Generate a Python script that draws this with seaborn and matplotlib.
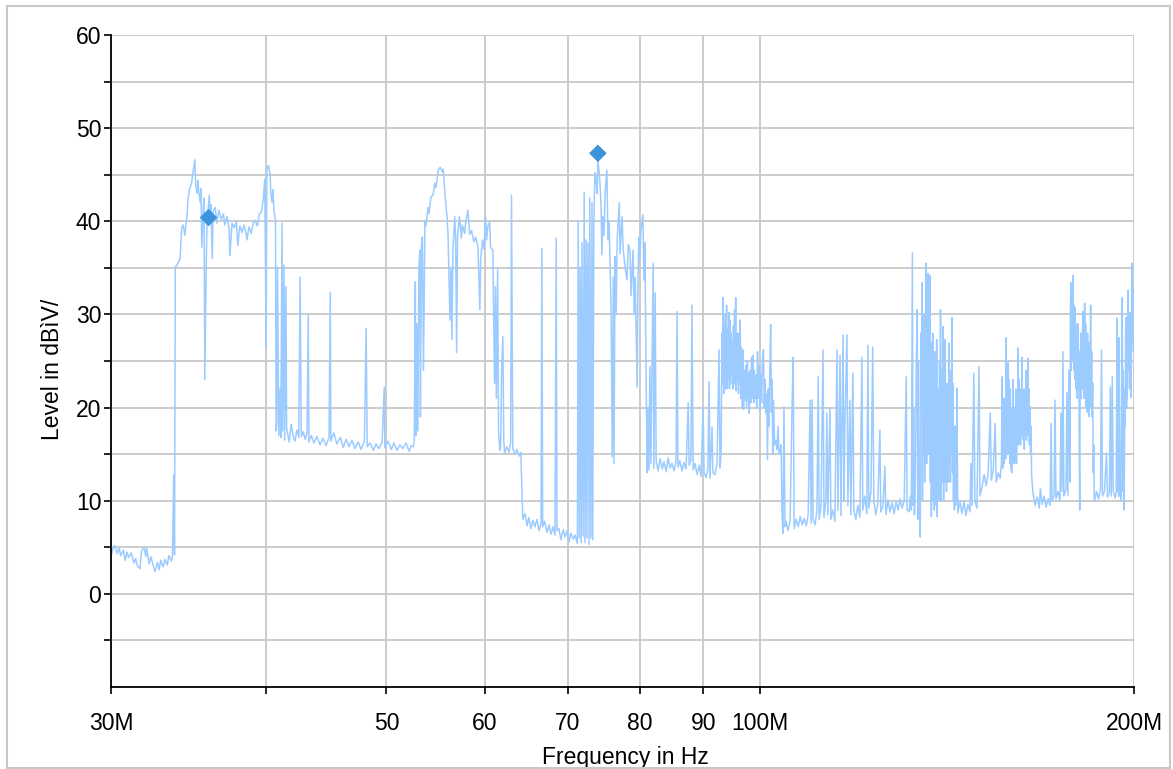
import pandas as pd
import matplotlib
matplotlib.use("Agg")
import matplotlib.pyplot as plt
import seaborn as sns
from matplotlib.patches import Rectangle
from matplotlib.ticker import NullLocator

# scan trace, (frequency in MHz, level in dBuV)
band_30_34 = [
    (30.0, 4.0), (30.1, 4.8), (30.2, 5.2), (30.35, 4.3), (30.45, 4.9), (30.55, 4.1),
    (30.7, 4.7), (30.8, 3.6), (30.9, 4.5), (31.0, 3.9), (31.15, 4.4), (31.3, 3.3),
    (31.4, 3.8), (31.5, 3.0), (31.65, 2.7), (31.75, 4.6), (31.9, 5.0), (32.0, 4.0),
    (32.05, 4.9), (32.2, 3.2), (32.3, 4.0), (32.45, 3.0), (32.55, 2.4), (32.7, 3.4),
    (32.8, 2.6), (32.9, 3.6), (33.05, 2.9), (33.15, 3.7), (33.3, 3.1), (33.4, 4.1),
    (33.55, 3.5), (33.62, 4.0), (33.7, 12.8), (33.75, 4.2), (33.8, 35.1),
]
band_34_41 = [
    (33.85, 35.2), (34.0, 35.6), (34.1, 36.0), (34.2, 39.3), (34.3, 39.6), (34.4, 38.5),
    (34.55, 40.8), (34.6, 42.3), (34.7, 43.4), (34.85, 44.2), (34.9, 45.0), (35.05, 46.6),
    (35.1, 44.0), (35.2, 43.0), (35.25, 44.4), (35.3, 43.2), (35.4, 42.0), (35.45, 43.5),
    (35.5, 37.2), (35.6, 41.5), (35.65, 42.5), (35.7, 23.0), (35.8, 36.0), (35.85, 40.0),
    (36.0, 42.8), (36.05, 40.5), (36.1, 41.8), (36.2, 36.0), (36.25, 41.0), (36.4, 41.5),
    (36.5, 39.8), (36.65, 41.2), (36.8, 40.2), (36.95, 40.8), (37.05, 39.6), (37.2, 40.5),
    (37.35, 39.2), (37.4, 36.3), (37.55, 39.8), (37.7, 39.3), (37.85, 40.0), (37.95, 37.4),
    (38.1, 39.5), (38.25, 38.8), (38.4, 39.6), (38.55, 38.6), (38.6, 38.0), (38.75, 39.4),
    (38.9, 38.7), (39.05, 39.8), (39.2, 40.1), (39.35, 39.5), (39.5, 40.8), (39.65, 41.0),
    (39.8, 42.5), (39.9, 44.5), (40.0, 26.4), (40.05, 45.5), (40.15, 46.0), (40.2, 45.8),
    (40.3, 45.0), (40.35, 43.0), (40.45, 42.0), (40.5, 43.4), (40.6, 41.0), (40.7, 40.0),
    (40.75, 17.5),
]
band_41_52 = [
    (40.8, 18.3), (40.85, 35.1), (40.95, 17.0), (41.05, 22.0), (41.1, 16.8), (41.2, 39.8),
    (41.25, 17.5), (41.35, 35.3), (41.4, 16.5), (41.5, 33.0), (41.55, 17.8), (41.75, 16.3),
    (41.9, 18.2), (42.05, 17.0), (42.2, 16.4), (42.35, 17.6), (42.5, 16.8), (42.6, 34.0),
    (42.7, 16.9), (42.85, 17.4), (43.0, 16.6), (43.15, 17.2), (43.25, 29.9), (43.3, 16.3),
    (43.5, 17.0), (43.7, 16.2), (43.95, 16.9), (44.2, 16.0), (44.45, 16.7), (44.7, 15.9),
    (44.95, 16.8), (45.05, 32.4), (45.1, 16.4), (45.35, 17.3), (45.6, 16.1), (45.9, 16.8),
    (46.15, 15.7), (46.4, 16.6), (46.65, 15.8), (46.9, 16.5), (47.15, 15.6), (47.45, 16.3),
    (47.7, 15.5), (48.0, 16.4), (48.15, 28.5), (48.25, 15.8), (48.5, 16.2), (48.8, 15.4),
    (49.05, 16.1), (49.3, 15.6), (49.6, 16.3), (49.8, 22.2), (49.85, 15.7), (50.15, 16.4),
    (50.45, 15.5), (50.7, 16.2), (51.0, 15.4), (51.25, 16.0), (51.55, 15.6), (51.85, 16.2),
    (52.15, 15.3), (52.35, 15.9), (52.55, 15.8),
]
band_52_62 = [
    (52.65, 16.5), (52.75, 33.5), (52.8, 17.0), (52.9, 29.0), (53.0, 17.5), (53.1, 35.0),
    (53.2, 36.9), (53.25, 19.0), (53.35, 37.5), (53.45, 38.3), (53.55, 24.0), (53.7, 40.1),
    (53.8, 39.5), (54.0, 41.5), (54.1, 40.8), (54.3, 42.6), (54.5, 42.8), (54.7, 44.1),
    (54.8, 43.6), (55.05, 45.5), (55.25, 45.8), (55.45, 45.3), (55.55, 45.6), (55.75, 42.6),
    (55.95, 40.4), (56.05, 38.5), (56.25, 29.4), (56.35, 35.0), (56.45, 27.3), (56.55, 36.6),
    (56.75, 40.5), (56.85, 38.0), (56.95, 25.9), (57.05, 38.5), (57.25, 40.5), (57.45, 38.2),
    (57.55, 39.6), (57.8, 38.7), (57.9, 39.8), (58.15, 41.2), (58.35, 38.6), (58.55, 39.0),
    (58.8, 37.8), (59.0, 38.3), (59.25, 37.2), (59.45, 30.5), (59.55, 36.0), (59.75, 38.0),
    (59.9, 37.0), (60.1, 40.5), (60.2, 38.0), (60.35, 39.5), (60.55, 39.9), (60.65, 37.2),
    (60.9, 36.9), (61.0, 30.0), (61.1, 22.6), (61.2, 33.0), (61.3, 21.0), (61.45, 34.8),
    (61.55, 17.5), (61.7, 15.4),
]
band_62_74 = [
    (61.8, 16.0), (61.9, 24.0), (62.05, 27.6), (62.15, 16.5), (62.25, 15.1), (62.5, 15.8),
    (62.75, 15.2), (62.95, 16.2), (63.05, 42.8), (63.2, 15.6), (63.45, 15.0), (63.7, 15.5),
    (63.95, 14.8), (64.15, 15.2), (64.3, 10.4), (64.4, 8.0), (64.65, 8.6), (64.9, 7.3),
    (65.1, 8.2), (65.35, 7.0), (65.6, 7.9), (65.85, 7.2), (66.1, 8.0), (66.35, 6.8),
    (66.6, 7.5), (66.7, 37.1), (66.8, 7.2), (67.05, 7.8), (67.35, 6.6), (67.6, 7.4),
    (67.85, 6.4), (68.1, 7.2), (68.35, 6.3), (68.5, 38.2), (68.6, 6.8), (68.85, 7.0),
    (69.1, 5.8), (69.4, 6.9), (69.65, 6.1), (69.9, 6.8), (70.15, 5.6), (70.4, 6.5),
    (70.7, 5.9), (70.95, 6.3), (71.25, 5.4), (71.35, 40.0), (71.5, 6.0), (71.6, 35.0),
    (71.75, 5.5), (71.85, 37.7), (72.0, 6.2), (72.15, 43.1), (72.25, 5.5), (72.4, 38.0),
    (72.5, 6.0), (72.65, 37.7), (72.8, 5.3), (72.9, 42.5), (73.05, 6.0), (73.2, 42.0),
    (73.3, 5.8), (73.45, 40.0), (73.6, 45.2),
]
band_74_81 = [
    (73.75, 44.4), (73.9, 43.0), (74.0, 46.4), (74.15, 45.5), (74.3, 44.0), (74.45, 41.5),
    (74.55, 36.4), (74.7, 40.5), (74.85, 38.5), (75.0, 43.0), (75.25, 45.5), (75.4, 38.0),
    (75.55, 40.0), (75.7, 35.5), (75.85, 30.0), (76.0, 14.7), (76.15, 34.0), (76.25, 14.0),
    (76.4, 36.2), (76.55, 30.0), (76.7, 38.0), (77.0, 42.0), (77.1, 36.5), (77.4, 40.5),
    (77.55, 37.0), (77.85, 35.0), (78.1, 33.7), (78.3, 37.5), (78.55, 36.9), (78.7, 32.0),
    (79.0, 36.9), (79.15, 30.0), (79.3, 34.0), (79.6, 22.2), (79.7, 33.0), (79.85, 38.3),
    (80.0, 36.0), (80.15, 39.0), (80.45, 40.7), (80.6, 33.7), (80.75, 37.7),
]
band_81_93 = [
    (80.9, 25.0), (81.1, 13.0), (81.2, 20.0), (81.35, 13.3), (81.5, 24.4), (81.65, 14.0),
    (82.0, 35.5), (82.1, 13.5), (82.3, 32.3), (82.45, 14.2), (82.75, 13.2), (83.05, 14.5),
    (83.4, 13.4), (83.65, 14.2), (84.0, 13.1), (84.3, 14.6), (84.6, 13.5), (84.9, 14.0),
    (85.25, 13.2), (85.55, 14.4), (85.7, 30.3), (85.85, 13.6), (86.15, 14.3), (86.5, 13.2),
    (86.8, 14.1), (87.15, 13.4), (87.5, 20.5), (87.65, 13.8), (87.95, 14.4), (88.1, 31.0),
    (88.3, 13.3), (88.6, 14.0), (88.95, 12.8), (89.3, 13.8), (89.6, 12.6), (89.95, 20.0),
    (90.1, 13.0), (90.45, 12.5), (90.75, 13.4), (90.95, 22.8), (91.1, 12.4), (91.45, 17.9),
    (91.6, 13.0), (91.95, 12.8), (92.3, 14.0), (92.65, 26.2), (92.8, 13.5), (93.0, 15.0),
]
band_93_104 = [
    (93.15, 28.0), (93.25, 22.5), (93.35, 31.8), (93.45, 21.5), (93.55, 29.0), (93.65, 22.0),
    (93.75, 30.0), (93.85, 23.5), (93.95, 31.0), (94.05, 22.0), (94.15, 28.5), (94.25, 23.0),
    (94.35, 30.2), (94.45, 22.0), (94.55, 29.4), (94.65, 22.5), (94.75, 28.0), (94.85, 23.5),
    (94.95, 27.0), (95.05, 22.0), (95.15, 28.8), (95.25, 23.0), (95.35, 30.5), (95.45, 22.5),
    (95.55, 31.8), (95.65, 21.8), (95.75, 28.0), (95.85, 23.0), (95.95, 27.5), (96.05, 21.5),
    (96.15, 28.0), (96.25, 22.5), (96.35, 29.4), (96.45, 21.0), (96.55, 26.5), (96.7, 20.0),
    (96.85, 26.2), (96.95, 19.8), (97.05, 24.0), (97.2, 20.8), (97.35, 24.5), (97.5, 20.0),
    (97.65, 25.0), (97.75, 21.0), (97.85, 23.7), (97.95, 19.4), (98.1, 24.0), (98.25, 20.5),
    (98.4, 25.4), (98.55, 21.0), (98.7, 25.6), (98.8, 20.5), (98.9, 24.0), (99.05, 21.0),
    (99.2, 23.5), (99.35, 20.0), (99.5, 26.0), (99.65, 21.0), (99.8, 24.5), (99.95, 19.7),
    (100.1, 23.5), (100.25, 20.5), (100.4, 25.0), (100.6, 26.2), (100.75, 20.0), (100.9, 23.0),
    (101.05, 19.4), (101.2, 21.5), (101.35, 14.4), (101.5, 22.0), (101.65, 18.0), (101.8, 24.0),
    (101.95, 28.9), (102.1, 19.5), (102.2, 23.0), (102.35, 15.0), (102.5, 20.8), (102.7, 16.0),
    (102.95, 16.5), (103.15, 15.5), (103.35, 18.0), (103.55, 15.0), (103.75, 15.1), (103.95, 16.0),
    (104.1, 9.0), (104.3, 6.5),
]
band_104_131 = [
    (104.5, 20.1), (104.7, 7.2), (104.9, 7.8), (105.3, 6.8), (105.7, 7.9), (106.1, 20.8),
    (106.3, 25.4), (106.5, 7.0), (106.9, 8.0), (107.3, 7.2), (107.7, 8.3), (108.1, 7.4),
    (108.5, 8.1), (108.9, 7.3), (109.3, 8.5), (109.7, 20.8), (109.9, 7.6), (110.1, 20.8),
    (110.3, 8.0), (110.7, 7.4), (111.1, 9.0), (111.35, 23.3), (111.55, 8.0), (111.95, 9.5),
    (112.35, 26.2), (112.55, 8.2), (112.95, 10.0), (113.15, 19.4), (113.35, 8.5), (113.8, 19.9),
    (114.0, 8.0), (114.4, 9.0), (114.85, 7.8), (115.3, 26.2), (115.5, 9.0), (115.95, 25.6),
    (116.15, 8.4), (116.6, 27.8), (116.8, 10.0), (117.0, 18.0), (117.45, 27.8), (117.65, 9.5),
    (118.1, 20.8), (118.3, 8.5), (118.75, 23.7), (118.95, 9.0), (119.4, 8.0), (119.85, 9.5),
    (120.3, 8.2), (120.75, 25.4), (120.95, 9.0), (121.4, 10.5), (121.85, 8.6), (122.1, 26.7),
    (122.3, 9.2), (122.8, 11.0), (123.2, 26.5), (123.45, 10.0), (123.9, 8.5), (124.35, 9.6),
    (124.85, 17.6), (125.05, 8.8), (125.55, 9.4), (126.0, 13.7), (126.25, 8.5), (126.75, 10.1),
    (127.2, 8.8), (127.7, 9.8), (128.2, 8.6), (128.65, 9.9), (129.15, 9.0), (129.6, 10.2),
    (130.1, 9.2), (130.6, 10.0),
]
band_131_145 = [
    (131.1, 23.3), (131.3, 9.0), (131.8, 8.8), (132.1, 10.5), (132.35, 9.0), (132.6, 36.6),
    (132.75, 9.5), (132.9, 20.0), (133.1, 8.5), (133.35, 12.0), (133.55, 24.0), (133.8, 30.5),
    (133.95, 8.0), (134.1, 25.0), (134.3, 10.0), (134.55, 6.1), (134.7, 28.0), (134.85, 20.0),
    (135.0, 33.4), (135.1, 10.0), (135.25, 25.0), (135.4, 15.0), (135.5, 30.0), (135.65, 12.0),
    (135.75, 28.0), (135.9, 18.0), (136.0, 35.5), (136.15, 14.0), (136.25, 30.0), (136.4, 20.0),
    (136.5, 34.4), (136.6, 15.0), (136.7, 31.0), (136.85, 22.0), (136.95, 34.2), (137.1, 12.0),
    (137.2, 25.0), (137.35, 8.3), (137.5, 27.0), (137.6, 10.0), (137.7, 28.0), (137.85, 12.0),
    (137.95, 24.0), (138.1, 9.0), (138.2, 26.0), (138.35, 14.0), (138.45, 22.0), (138.6, 9.5),
    (138.7, 27.3), (138.85, 8.3), (138.95, 20.0), (139.1, 12.0), (139.2, 22.0), (139.35, 10.0),
    (139.45, 25.0), (139.6, 11.0), (139.7, 30.5), (139.85, 10.0), (140.0, 24.0), (140.1, 18.0),
    (140.25, 12.0), (140.35, 28.7), (140.5, 10.0), (140.6, 24.0), (140.75, 12.0), (140.85, 27.3),
    (141.0, 13.0), (141.1, 20.0), (141.25, 11.0), (141.35, 22.6), (141.5, 12.0), (141.6, 18.0),
    (141.75, 12.0), (141.9, 26.9), (142.05, 14.0), (142.15, 18.0), (142.3, 12.0), (142.4, 24.0),
    (142.55, 15.0), (142.7, 29.7), (142.85, 13.0), (142.95, 22.6), (143.1, 10.0), (143.2, 15.0),
    (143.35, 9.0), (143.5, 18.0), (143.65, 9.5), (143.75, 18.0), (143.9, 10.0), (144.0, 22.1),
    (144.25, 8.7),
]
band_145_166 = [
    (144.85, 10.0), (145.35, 8.6), (145.9, 9.9), (146.45, 8.4), (147.0, 9.6), (147.55, 8.8),
    (147.8, 14.0), (148.1, 9.5), (148.6, 23.7), (148.9, 10.0), (149.45, 9.2), (150.05, 24.4),
    (150.3, 10.5), (150.9, 11.5), (151.45, 12.8), (152.05, 11.6), (152.6, 13.0), (153.2, 19.4),
    (153.5, 12.2), (154.05, 13.3), (154.6, 18.3), (154.9, 12.0), (155.5, 13.0), (156.05, 12.4),
    (156.4, 14.0), (156.65, 23.3), (156.8, 13.5), (156.95, 15.0), (157.1, 21.0), (157.25, 14.0),
    (157.5, 20.0), (157.65, 14.5), (157.8, 27.5), (157.95, 16.0), (158.1, 22.0), (158.25, 15.0),
    (158.4, 24.8), (158.55, 17.0), (158.7, 23.0), (158.85, 14.0), (159.0, 22.0), (159.15, 13.5),
    (159.25, 18.0), (159.4, 13.0), (159.55, 20.0), (159.7, 14.0), (159.85, 23.0), (160.0, 15.0),
    (160.1, 20.0), (160.25, 14.0), (160.4, 20.0), (160.55, 15.5), (160.7, 22.0), (160.85, 14.0),
    (161.0, 19.0), (161.15, 16.0), (161.3, 26.4), (161.45, 16.0), (161.6, 23.0), (161.75, 17.0),
    (161.9, 22.0), (162.05, 16.0), (162.2, 21.0), (162.35, 17.5), (162.5, 25.4), (162.65, 17.0),
    (162.75, 22.0), (162.9, 16.5), (163.05, 20.0), (163.2, 15.5), (163.35, 22.0), (163.5, 17.0),
    (163.7, 24.0), (163.85, 16.5), (164.0, 21.0), (164.15, 17.0), (164.3, 25.3), (164.45, 17.5),
    (164.6, 22.0), (164.75, 16.0), (164.95, 20.1), (165.1, 15.0), (165.25, 18.0), (165.4, 13.0),
    (165.55, 12.0), (165.85, 10.8),
]
band_166_200 = [
    (166.5, 9.5), (167.15, 10.4), (167.8, 9.2), (168.1, 11.3), (168.7, 9.6), (169.3, 10.5),
    (169.9, 9.3), (170.55, 10.2), (171.2, 9.5), (171.5, 18.3), (171.8, 10.0), (172.45, 10.6),
    (172.75, 20.8), (173.05, 10.2), (173.7, 11.0), (174.35, 10.0), (174.65, 19.4), (175.0, 11.0),
    (175.3, 26.0), (175.6, 10.5), (176.3, 11.2), (176.6, 21.6), (176.9, 10.6), (177.25, 24.0),
    (177.6, 12.0), (177.75, 30.0), (177.9, 33.4), (178.05, 24.0), (178.2, 31.0), (178.35, 25.0),
    (178.55, 34.2), (178.7, 26.0), (178.85, 31.0), (179.0, 24.0), (179.2, 30.8), (179.35, 23.0),
    (179.5, 29.0), (179.65, 22.0), (179.85, 27.0), (180.0, 21.0), (180.2, 29.0), (180.35, 22.0),
    (180.55, 26.0), (180.7, 15.0), (180.85, 9.0), (181.0, 24.0), (181.2, 28.0), (181.35, 21.0),
    (181.5, 27.0), (181.65, 22.0), (181.85, 30.3), (182.0, 22.0), (182.2, 28.0), (182.35, 21.0),
    (182.5, 31.2), (182.7, 23.0), (182.85, 29.0), (183.0, 20.0), (183.2, 27.0), (183.35, 19.5),
    (183.5, 28.0), (183.7, 20.0), (183.85, 25.0), (184.0, 19.0), (184.2, 27.0), (184.35, 21.0),
    (184.55, 31.0), (184.7, 20.0), (184.9, 26.0), (185.05, 19.0), (185.25, 22.6), (185.45, 13.0),
    (185.6, 16.0), (185.8, 10.0), (185.95, 10.1), (186.6, 11.0), (187.3, 10.2), (187.95, 11.2),
    (188.3, 26.2), (188.65, 10.5), (189.35, 11.0), (190.05, 15.1), (190.4, 10.4), (191.1, 10.9),
    (191.4, 22.2), (191.75, 10.5), (192.1, 23.3), (192.45, 11.0), (193.15, 10.3), (193.5, 11.0),
    (193.85, 29.6), (194.0, 11.0), (194.2, 14.0), (194.4, 10.5), (194.6, 27.5), (194.8, 10.5),
    (195.0, 12.0), (195.2, 10.0), (195.45, 20.0), (195.7, 31.8), (195.9, 11.0), (196.05, 24.0),
    (196.25, 10.5), (196.4, 9.0), (196.6, 22.0), (196.75, 18.0), (196.9, 28.0), (197.1, 29.7),
    (197.25, 20.0), (197.4, 27.0), (197.5, 21.0), (197.7, 30.0), (197.85, 32.6), (198.0, 24.0),
    (198.2, 30.0), (198.35, 22.0), (198.5, 28.0), (198.6, 30.2), (198.75, 24.0), (198.95, 21.1),
    (199.1, 30.0), (199.3, 35.5), (199.45, 27.0), (199.65, 33.0), (199.8, 26.0), (200.0, 30.0),
]

# the two marked peaks
peak_freq = [35.95, 74.0]
peak_level = [40.4, 47.3]

x_ticks = [30, 40, 50, 60, 70, 80, 90, 100, 200]
x_tick_labels = ["30M", "", "50", "60", "70", "80", "90", "100M", "200M"]
y_ticks = [0, 10, 20, 30, 40, 50, 60]
y_minor_ticks = [-5, 5, 15, 25, 35, 45, 55]

bands = [band_30_34, band_34_41, band_41_52, band_52_62, band_62_74, band_74_81,
         band_81_93, band_93_104, band_104_131, band_131_145, band_145_166, band_166_200]
trace = pd.DataFrame([p for b in bands for p in b], columns=["freq_mhz", "level"])
peaks = pd.DataFrame({"freq_mhz": peak_freq, "level": peak_level})

sns.set_style("white")
plt.rcParams["font.family"] = ["Liberation Sans", "DejaVu Sans"]
plt.rcParams["text.color"] = "black"
plt.rcParams["axes.labelcolor"] = "black"
plt.rcParams["xtick.color"] = "black"
plt.rcParams["ytick.color"] = "black"

fig = plt.figure(figsize=(11.73, 7.69), dpi=100)
ax = fig.add_axes([111 / 1173, 1 - 687 / 769, 1023 / 1173, 652 / 769])

sns.lineplot(data=trace, x="freq_mhz", y="level", ax=ax, estimator=None, sort=False,
             color="#9ccbff", linewidth=1.1)
sns.scatterplot(data=peaks, x="freq_mhz", y="level", ax=ax, marker="D", s=80,
                color="#3b95dc", edgecolor="none", zorder=5)

ax.set_xscale("log")
ax.set_xlim(30, 200)
ax.set_ylim(-10, 60)
ax.xaxis.set_minor_locator(NullLocator())
ax.set_xticks(x_ticks)
ax.set_xticklabels(x_tick_labels)
ax.set_yticks(y_ticks)
ax.set_yticks(y_minor_ticks, minor=True)

ax.grid(True, which="both", color="#c8c8c8", linewidth=1.3)
ax.set_axisbelow(True)
for s in ["top", "right"]:
    ax.spines[s].set_visible(False)
for s in ["left", "bottom"]:
    ax.spines[s].set_color("black")
    ax.spines[s].set_linewidth(1.3)

ax.tick_params(axis="both", which="both", direction="out", length=5, width=1.2,
               color="black", labelcolor="black", labelsize=16.5, left=True, bottom=True)
ax.tick_params(axis="x", pad=13)
ax.tick_params(axis="y", pad=2)

ax.set_xlabel("Frequency in Hz", fontsize=16.5, color="black")
ax.set_ylabel("Level in dBìV/", fontsize=16.5, color="black")
ax.xaxis.set_label_coords(0.503, -0.09)
ax.yaxis.set_label_coords(-0.046, 0.487)

fig.patches.append(Rectangle((7 / 1173, 1 / 769), 1163 / 1173, 762 / 769,
                             transform=fig.transFigure, fill=False,
                             edgecolor="#c8c8c8", linewidth=1.5))

fig.savefig("out.png", dpi=100)
